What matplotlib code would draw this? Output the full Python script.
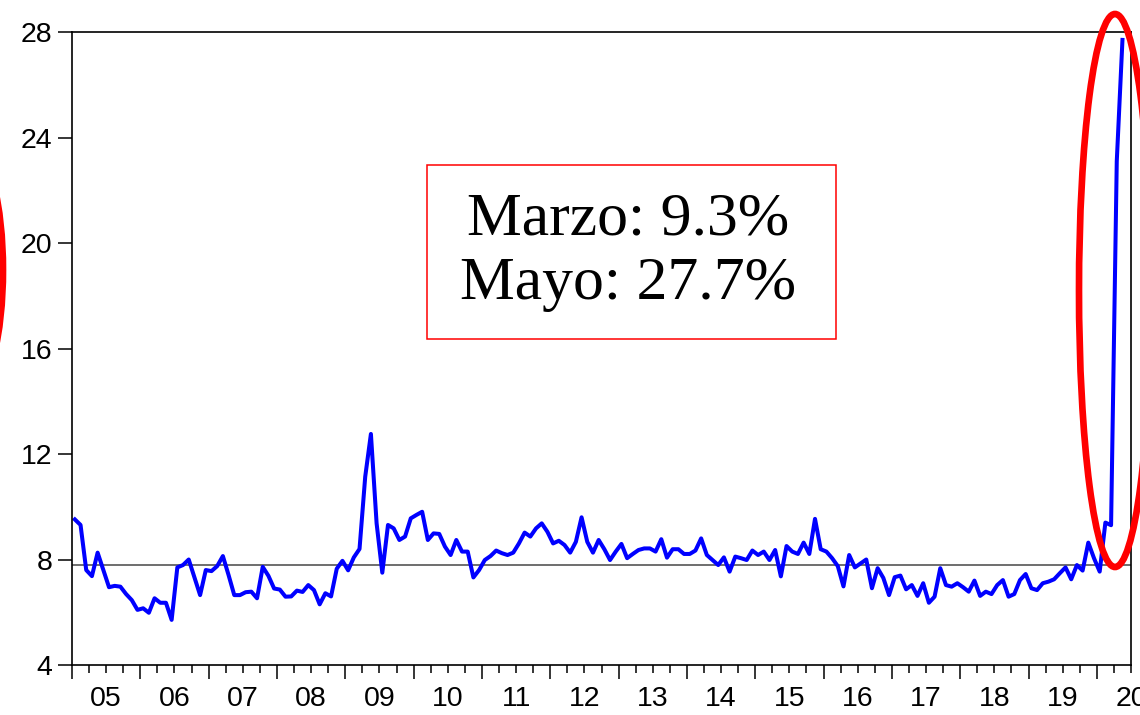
import matplotlib
matplotlib.use("Agg")
import matplotlib.pyplot as plt
from matplotlib.patches import Ellipse, Rectangle
from matplotlib.ticker import FixedLocator, FuncFormatter, NullFormatter
import numpy as np

# Monthly rate (%), January 2005 - May 2020
start_year = 2005
rate = [
    9.52, 9.31, 7.60, 7.37, 8.26, 7.60, 6.95, 7.00, 6.97, 6.69, 6.46, 6.09,   # 2005
    6.15, 5.98, 6.53, 6.36, 6.36, 5.71, 7.70, 7.79, 8.00, 7.32, 6.65, 7.60,   # 2006
    7.56, 7.75, 8.13, 7.41, 6.65, 6.65, 6.76, 6.78, 6.53, 7.72, 7.38, 6.90,   # 2007
    6.86, 6.59, 6.60, 6.82, 6.77, 7.03, 6.84, 6.30, 6.72, 6.60, 7.65, 7.95,   # 2008
    7.59, 8.08, 8.40, 11.14, 12.76, 9.37, 7.50, 9.31, 9.18, 8.74, 8.87, 9.56, # 2009
    9.69, 9.81, 8.74, 8.99, 8.97, 8.49, 8.17, 8.74, 8.30, 8.30, 7.32, 7.60,   # 2010
    7.98, 8.13, 8.34, 8.24, 8.17, 8.26, 8.61, 9.02, 8.87, 9.18, 9.37, 9.05,   # 2011
    8.61, 8.71, 8.55, 8.26, 8.67, 9.60, 8.67, 8.26, 8.74, 8.39, 7.98, 8.30,   # 2012
    8.59, 8.05, 8.21, 8.36, 8.42, 8.42, 8.30, 8.77, 8.07, 8.39, 8.39, 8.21,   # 2013
    8.21, 8.34, 8.80, 8.17, 7.98, 7.79, 8.08, 7.54, 8.11, 8.05, 7.98, 8.34,   # 2014
    8.17, 8.30, 7.98, 8.36, 7.36, 8.51, 8.30, 8.21, 8.64, 8.21, 9.54, 8.39,   # 2015
    8.30, 8.05, 7.75, 6.98, 8.17, 7.70, 7.85, 8.00, 6.91, 7.67, 7.30, 6.65,   # 2016
    7.33, 7.39, 6.87, 7.03, 6.62, 7.10, 6.36, 6.59, 7.67, 7.03, 6.97, 7.10,   # 2017
    6.95, 6.78, 7.20, 6.62, 6.78, 6.69, 7.03, 7.22, 6.59, 6.69, 7.22, 7.45,   # 2018
    6.91, 6.84, 7.10, 7.16, 7.25, 7.48, 7.70, 7.25, 7.79, 7.58, 8.64, 8.05,   # 2019
    7.54, 9.40, 9.30, 23.10, 27.70,                                            # 2020
]
reference_level = 7.78
y_ticks = [4, 8, 12, 16, 20, 24, 28]
years = list(range(2005, 2021))

W, H = 1140, 715
fig = plt.figure(figsize=(W / 100, H / 100), dpi=100)
ax = fig.add_axes([72 / W, 50 / H, (1131 - 72) / W, (665 - 32) / H])

months = start_year + (np.arange(len(rate)) + 0.5) / 12.0
ax.axhline(reference_level, color="#555555", lw=1.2, zorder=1)
ax.plot(months, rate, color="#0000ff", lw=2.9, zorder=2)

ax.set_xlim(2005, 2020.5)
ax.set_ylim(4, 28)

# y axis
ax.set_yticks(y_ticks)
ax.set_yticklabels([str(v) for v in y_ticks])
ax.tick_params(axis="y", which="major", length=10, width=1.1, pad=4,
               labelsize=20.5, direction="out", color="black")

# x axis: long ticks at year boundaries, short quarterly ticks,
# two-digit year label in the middle of each year
ax.xaxis.set_major_locator(FixedLocator(years))
ax.xaxis.set_major_formatter(NullFormatter())
quarters = [y + q for y in years for q in (0.25, 0.5, 0.75) if y + q <= 2020.5]
ax.xaxis.set_minor_locator(FixedLocator(quarters))


def year_label(v, pos):
    if abs((v % 1) - 0.5) < 1e-6:
        return f"{int(v) % 100:02d}"
    return ""


ax.xaxis.set_minor_formatter(FuncFormatter(year_label))
ax.tick_params(axis="x", which="major", length=10, width=1.1, direction="out")
ax.tick_params(axis="x", which="minor", length=5.5, width=1.1, pad=9.5,
               labelsize=20.5, direction="out")

for lab in ax.get_xticklabels(minor=True) + ax.get_yticklabels():
    lab.set_fontfamily("Liberation Sans")

for s in ax.spines.values():
    s.set_linewidth(1.2)
    s.set_color("black")

# annotation box
tf = fig.transFigure
box = Rectangle((427 / W, 1 - 339 / H), (836 - 427) / W, (339 - 165) / H,
                transform=tf, fill=False, ec="#ff0000", lw=1.1)
fig.add_artist(box)
fig.text(628 / W, 1 - 252 / H,
         f"Marzo: {rate[-3]:.1f}%\nMayo: {rate[-1]:.1f}%",
         ha="center", va="center", fontsize=44.5, family="Liberation Serif",
         linespacing=1.2, color="black")

# highlight around the last months
ring = Ellipse((1115 / W, 1 - 290.5 / H), 72 / W, 553 / H, transform=tf,
               fill=False, ec="#ff0000", lw=4.8, clip_on=False)
fig.add_artist(ring)
edge_arc = Ellipse((-28 / W, 1 - 270 / H), 62 / W, 240 / H, transform=tf,
                   fill=False, ec="#ff0000", lw=4.8, clip_on=False)
fig.add_artist(edge_arc)

fig.savefig("out.png", dpi=100)
